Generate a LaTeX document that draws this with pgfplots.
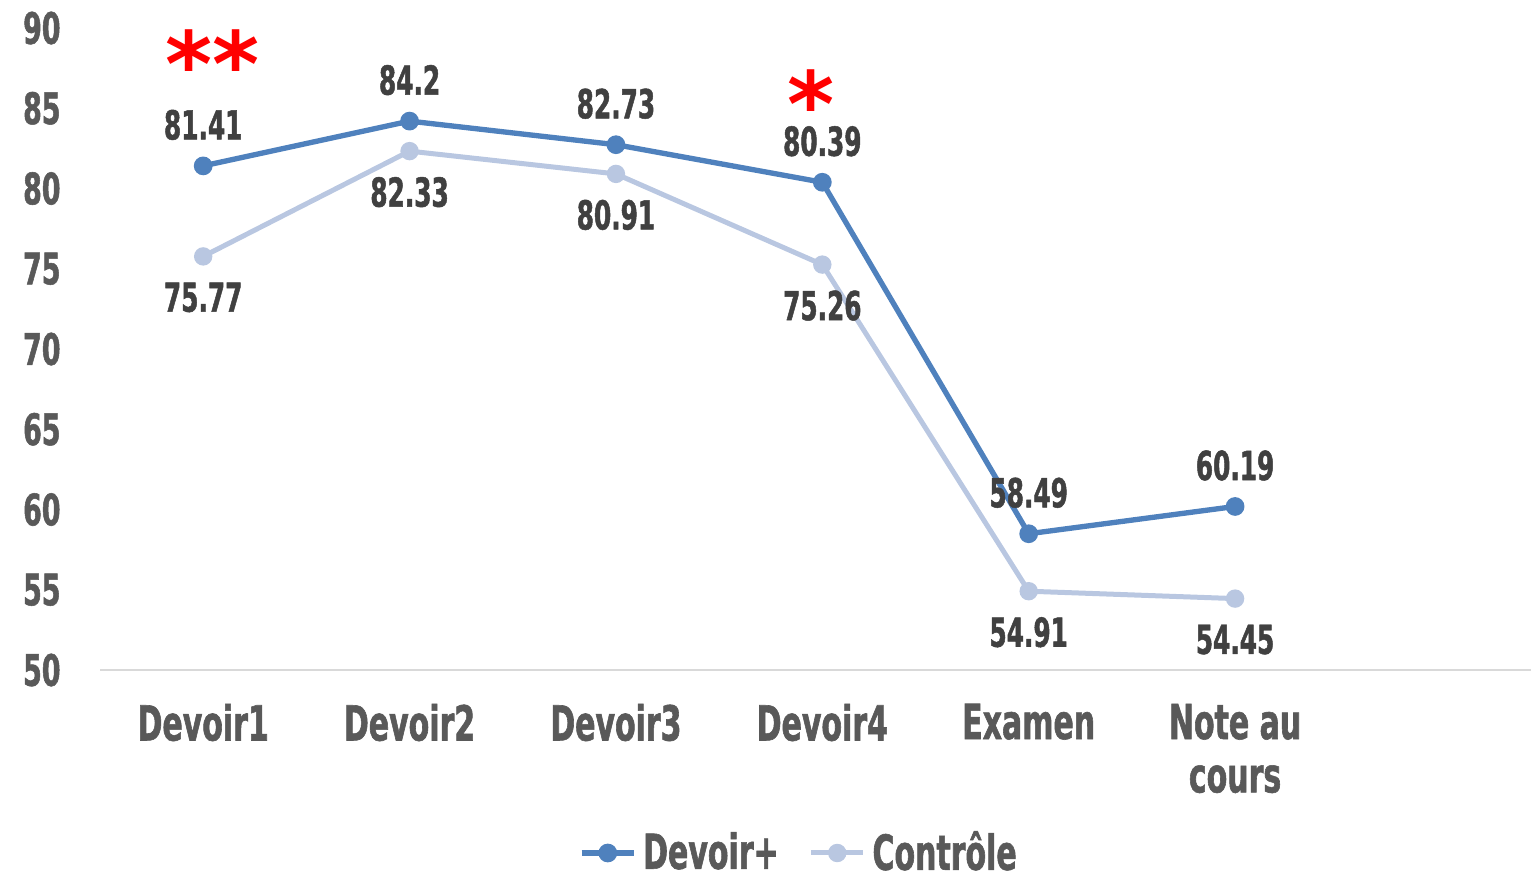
\documentclass[border=0pt]{standalone}
\usepackage{fontspec}
\setmainfont{DejaVu Sans}[UprightFont=* Bold, FakeStretch=0.62, FakeBold=1.2]
\newfontfamily\starfont{DejaVu Sans Bold}
\usepackage{pgfplots}
\pgfplotsset{compat=1.18}
\definecolor{devoir}{HTML}{4F81BD}
\definecolor{controle}{HTML}{B9C7E1}
\definecolor{ticktext}{HTML}{595959}
\definecolor{labeltext}{HTML}{404040}
\definecolor{baseline}{HTML}{D9D9D9}
% asterisk box trimmed to the glyph itself
\newcommand{\stars}[1]{\raisebox{-0.32em}[0.44em][0pt]{#1}}

\begin{document}
\begin{tikzpicture}
% page size = 1531x878 px at 0.3pt per px
\path[use as bounding box] (-30pt,-62.4pt) rectangle (429.3pt,201pt);
\begin{axis}[
  name=ax,
  scale only axis,
  width=429.3pt, height=192.6pt,
  xmin=-0.5, xmax=6.434,
  ymin=50, ymax=90,
  ytick={50,55,...,90},
  xtick={0,...,5},
  xticklabels={Devoir1,Devoir2,Devoir3,Devoir4,Examen,{Note au\\cours}},
  axis x line*=bottom,
  axis y line*=left,
  x axis line style={draw=baseline, line width=0.5pt, -},
  y axis line style={draw=none},
  major tick length=0pt,
  clip=false,
  /pgf/number format/assume math mode=true,
  y tick label style={font=\fontsize{13}{13}\selectfont, text=ticktext, anchor=east, xshift=-8.3pt},
  x tick label style={font=\fontsize{14.5}{16}\selectfont, text=ticktext, align=center, anchor=north, yshift=-6.6pt},
  legend columns=2,
  legend style={draw=none, fill=none, at={(0.49,-0.285)}, anchor=center,
    font=\fontsize{14.5}{16}\selectfont, text=ticktext,
    /tikz/every even column/.append style={column sep=7pt}},
  legend image code/.code={\draw[mark repeat=2,mark phase=2] plot coordinates {(0cm,0cm)(0.275cm,0cm)(0.55cm,0cm)};},
]
\addplot[color=devoir, line width=1.6pt, mark=*, mark size=2pt,
  mark options={solid, fill=devoir, draw=devoir},
  nodes near coords,
  every node near coord/.append style={font=\fontsize{12}{12}\selectfont, text=labeltext, anchor=center, yshift=12.3pt}]
  coordinates {(0,81.41) (1,84.2) (2,82.73) (3,80.39) (4,58.49) (5,60.19)};
\addlegendentry{Devoir+}

\addplot[color=controle, line width=1.5pt, mark=*, mark size=2pt,
  mark options={solid, fill=controle, draw=controle},
  nodes near coords,
  every node near coord/.append style={font=\fontsize{12}{12}\selectfont, text=labeltext, anchor=center, yshift=-12.3pt}]
  coordinates {(0,75.77) (1,82.33) (2,80.91) (3,75.26) (4,54.91) (5,54.45)};
\addlegendentry{Contrôle}

% significance markers
\node[text=red, font=\starfont\fontsize{27}{27}\selectfont, inner sep=0pt] at (axis cs:0.044,88.75) {\stars{**}};
\node[text=red, font=\starfont\fontsize{27}{27}\selectfont, inner sep=0pt] at (axis cs:2.946,86.26) {\stars{*}};
\end{axis}
\end{tikzpicture}
\end{document}
